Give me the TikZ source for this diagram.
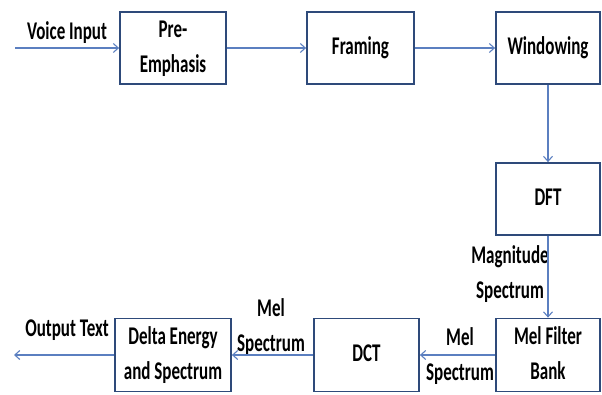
\documentclass[tikz,border=0pt]{standalone}
\usepackage{fontspec}
\setmainfont{Carlito}
\usepackage{graphicx}
\usetikzlibrary{arrows.meta}
\definecolor{boxnavy}{HTML}{2E4A7A}
\definecolor{linkblue}{HTML}{5B7FC0}
\newcommand{\tallText}[1]{\scalebox{1}[1.5]{\begin{tabular}{@{}c@{}}#1\end{tabular}}}

\begin{document}
\begin{tikzpicture}[x=1pt, y=-1pt,
  font=\fontsize{17}{23}\selectfont\bfseries,
  block/.style={draw=boxnavy, line width=1.8pt, fill=white, minimum width=106pt, minimum height=72pt, inner sep=0pt},
  flow/.style={draw=linkblue, line width=1.1pt, -{Straight Barb[length=5pt, width=9pt]}},
  tag/.style={inner sep=0pt}]
  \useasboundingbox (0,0) rectangle (602,395);
  % top row
  \node[block] (pre) at (173,48) {\tallText{Pre-\\Emphasis}};
  \node[block, minimum width=107pt] (frame) at (360.5,48) {\tallText{Framing}};
  \node[block, minimum width=104pt] (win) at (548,48) {\tallText{Windowing}};
  % right column
  \node[block, minimum width=104pt] (dft) at (548,199) {\tallText{DFT}};
  \node[block, minimum width=104pt, minimum height=73pt] (melbank) at (548,355) {\tallText{Mel Filter\\Bank}};
  % bottom row
  \node[block, minimum width=105pt, minimum height=73pt] (dct) at (366.5,355) {\tallText{DCT}};
  \node[block, minimum width=116pt, minimum height=73pt] (delta) at (173,355) {\tallText{Delta Energy\\and Spectrum}};
  % free ends
  \coordinate (vin) at (15,48);
  \coordinate (vout) at (14,355);
  % labels
  \node[tag] (vinlbl) at (67,33) {\tallText{Voice Input}};
  \node[tag] (voutlbl) at (67,330) {\tallText{Output Text}};
  \node[tag] (maglbl) at (510,274) {\tallText{Magnitude\\Spectrum}};
  \node[tag] (mellbl) at (460,356) {\tallText{Mel\\Spectrum}};
  \node[tag] (mellbltwo) at (271,327) {\tallText{Mel\\Spectrum}};
  % connectors
  \draw[flow] (vin) -- (pre);
  \draw[flow] (pre) -- (frame);
  \draw[flow] (frame) -- (win);
  \draw[flow] (win) -- (dft);
  \draw[flow] (dft) -- (melbank);
  \draw[flow] (melbank) -- (dct);
  \draw[flow] (dct) -- (delta);
  \draw[flow] (delta) -- (vout);
\end{tikzpicture}
\end{document}
